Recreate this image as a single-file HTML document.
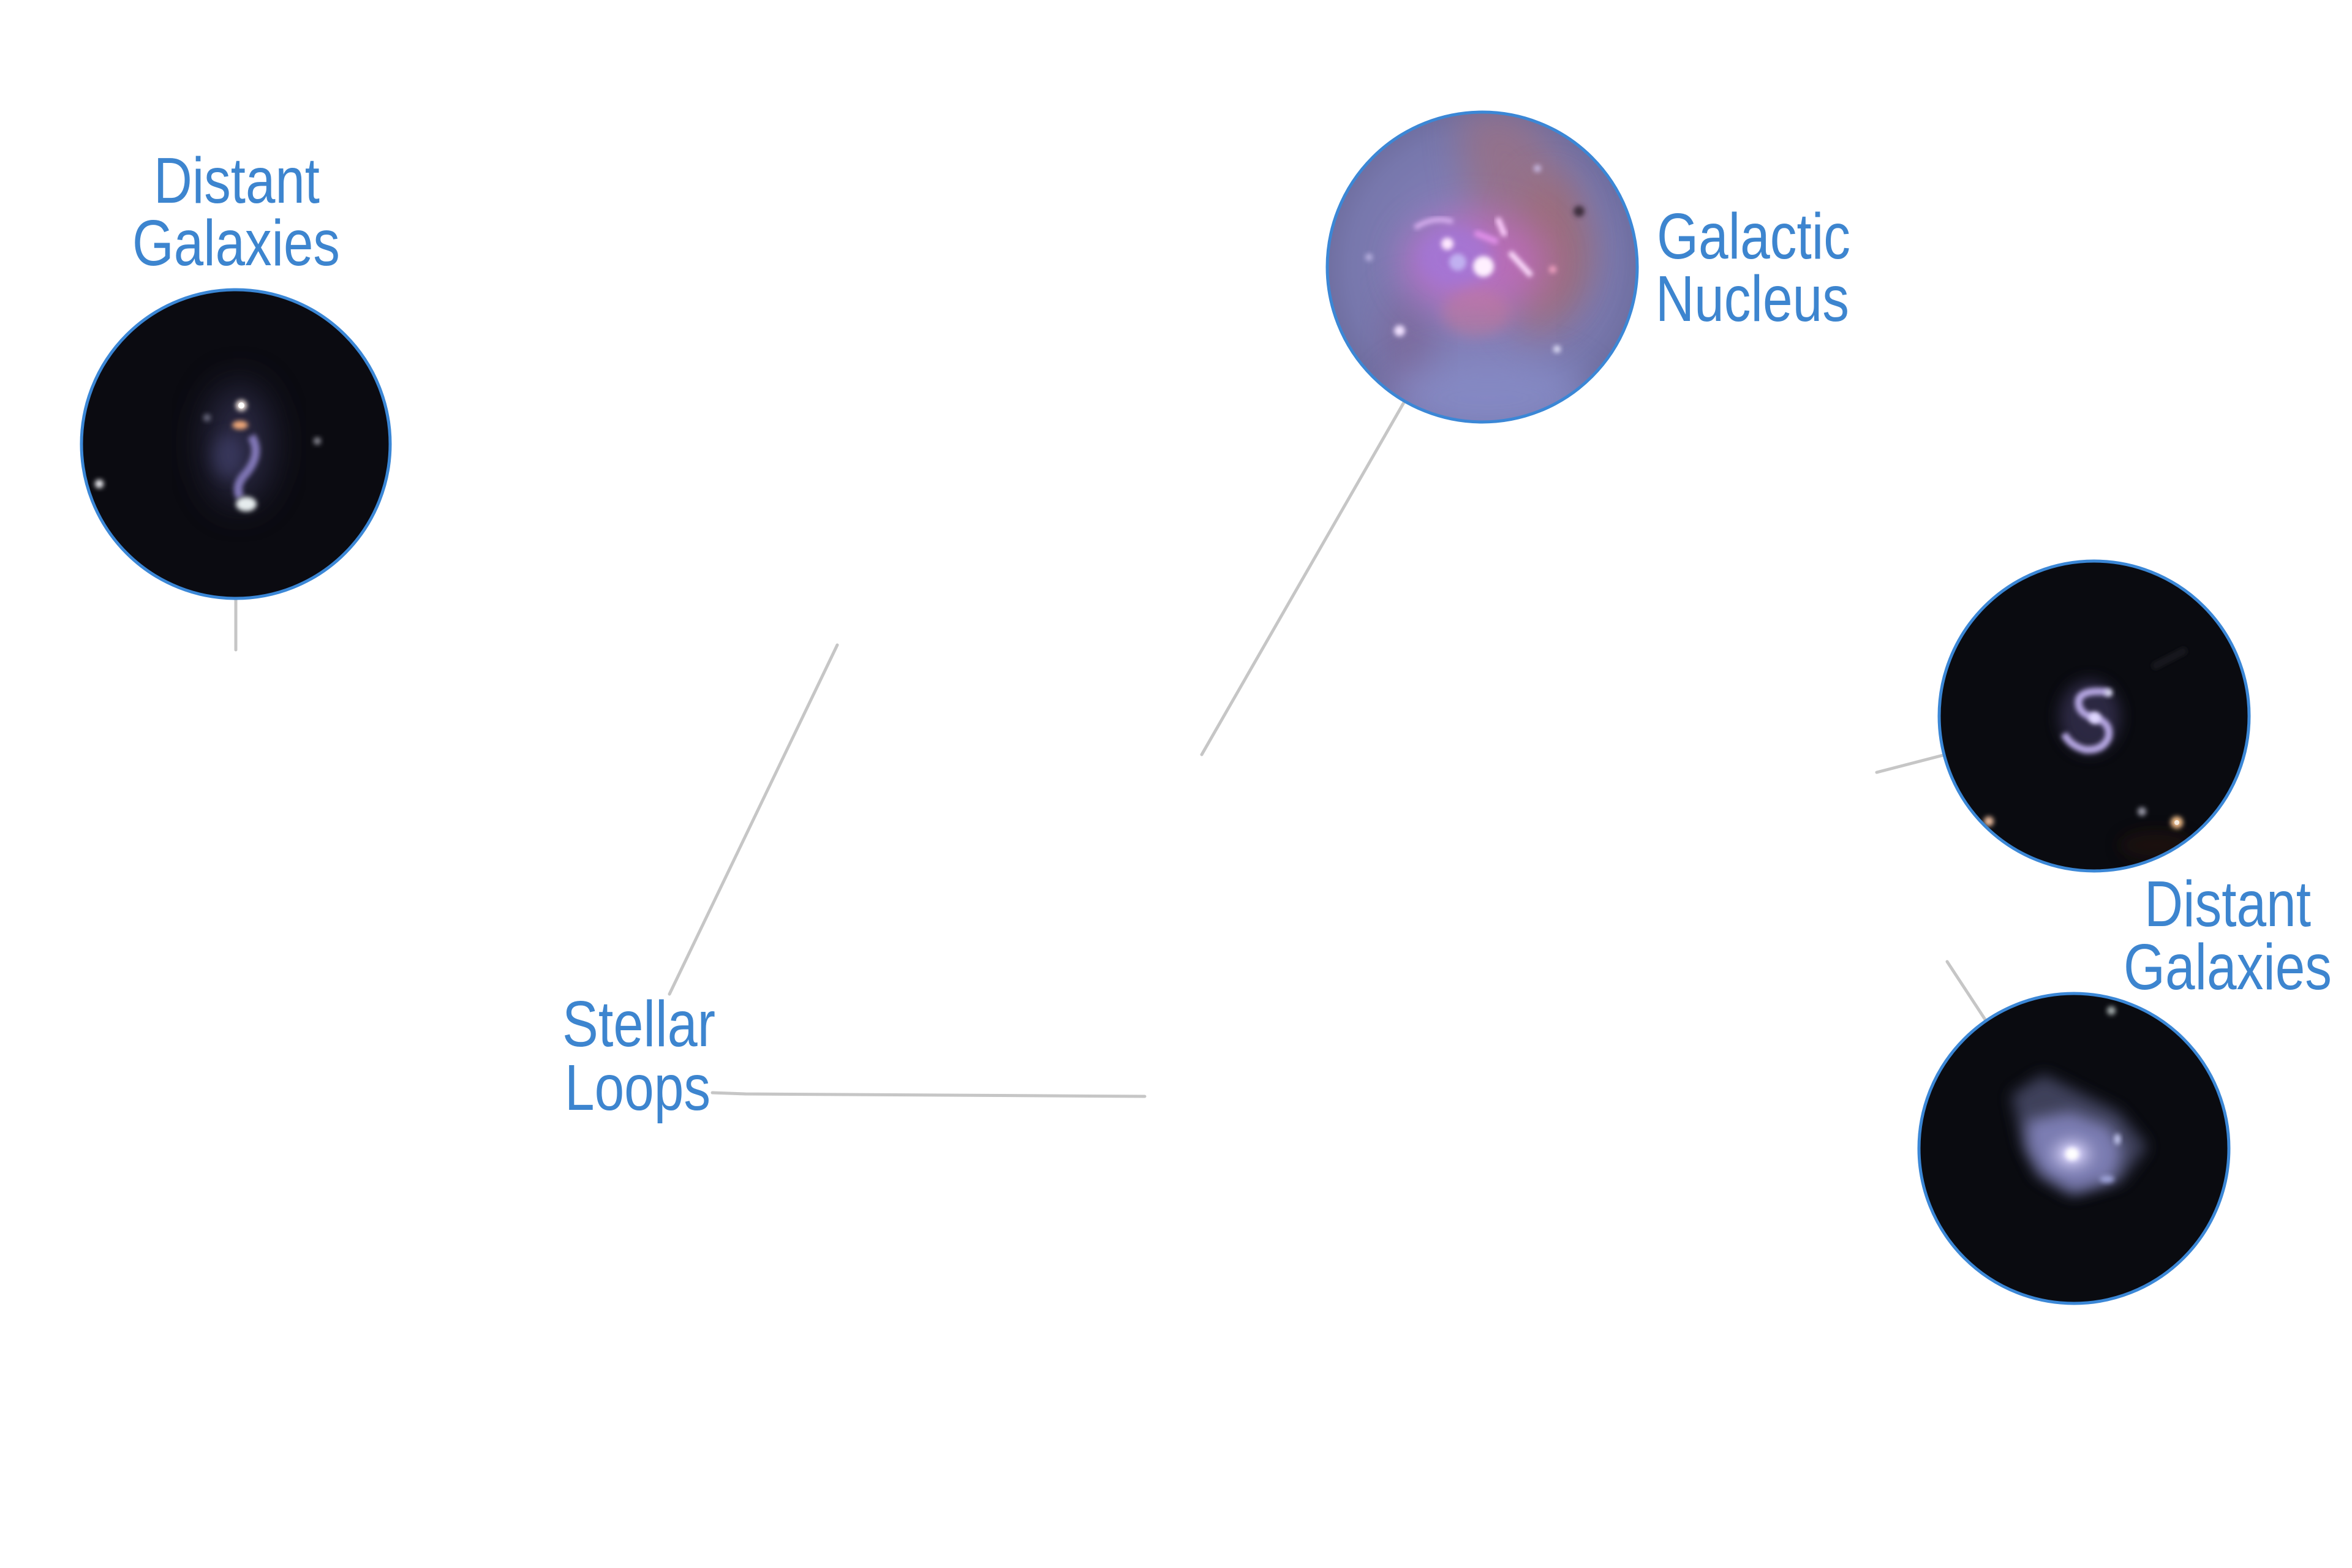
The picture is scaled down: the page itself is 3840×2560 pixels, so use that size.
<!DOCTYPE html>
<html>
<head>
<meta charset="utf-8">
<style>
html,body{margin:0;padding:0;background:#ffffff;}
body{width:3840px;height:2560px;overflow:hidden;}
svg{display:block;}
text{font-family:"Liberation Sans",Arial,sans-serif;fill:#3d85cf;font-size:106px;}
</style>
</head>
<body>
<svg width="3840" height="2560" viewBox="0 0 3840 2560" xmlns="http://www.w3.org/2000/svg">
<defs>
  <clipPath id="c1"><circle cx="385" cy="725" r="252"/></clipPath>
  <clipPath id="c2"><circle cx="2420" cy="436" r="253"/></clipPath>
  <clipPath id="c3"><circle cx="3419" cy="1169" r="253"/></clipPath>
  <clipPath id="c4"><circle cx="3386" cy="1875" r="253"/></clipPath>
  <filter id="bs" x="-50%" y="-50%" width="200%" height="200%"><feGaussianBlur stdDeviation="4"/></filter>
  <filter id="bm" x="-50%" y="-50%" width="200%" height="200%"><feGaussianBlur stdDeviation="12"/></filter>
  <filter id="bl" x="-50%" y="-50%" width="200%" height="200%"><feGaussianBlur stdDeviation="30"/></filter>
  <filter id="bx" x="-50%" y="-50%" width="200%" height="200%"><feGaussianBlur stdDeviation="55"/></filter>
  <radialGradient id="g2bg" cx="0.5" cy="0.5" r="0.6">
    <stop offset="0" stop-color="#8f86c2"/>
    <stop offset="0.7" stop-color="#7777ac"/>
    <stop offset="1" stop-color="#64628f"/>
  </radialGradient>
  <radialGradient id="g4core" cx="0.5" cy="0.5" r="0.5">
    <stop offset="0" stop-color="#fff6ff"/>
    <stop offset="0.25" stop-color="#c8c4ee"/>
    <stop offset="1" stop-color="#7a7cb0" stop-opacity="0"/>
  </radialGradient>
</defs>

<!-- connectors -->
<g stroke="#c6c6c6" stroke-width="5" stroke-linecap="round" fill="none">
  <line x1="385" y1="976" x2="385" y2="1061"/>
  <line x1="2295" y1="652" x2="1962" y2="1232"/>
  <line x1="1093" y1="1623" x2="1367" y2="1053"/>
  <polyline points="1163,1784 1217,1786 1869,1790"/>
  <line x1="3064" y1="1261" x2="3176" y2="1232"/>
  <line x1="3179" y1="1570" x2="3244" y2="1669"/>
</g>

<!-- circle 1: top-left distant galaxies -->
<g clip-path="url(#c1)">
  <rect x="120" y="460" width="530" height="530" fill="#0b0b11"/>
  <ellipse cx="390" cy="725" rx="55" ry="100" fill="#3e3b62" opacity="0.6" filter="url(#bl)"/>
  <path d="M410 712 Q 428 740 402 772 Q 382 792 392 812" stroke="#8278b8" stroke-width="14" fill="none" filter="url(#bs)"/>
  <ellipse cx="372" cy="745" rx="25" ry="35" fill="#4a4878" opacity="0.5" filter="url(#bm)"/>
  <circle cx="394" cy="662" r="9" fill="#fff0e8" filter="url(#bs)"/>
  <circle cx="394" cy="662" r="5" fill="#ffffff"/>
  <ellipse cx="392" cy="694" rx="13" ry="7" fill="#f0a878" filter="url(#bs)"/>
  <ellipse cx="402" cy="823" rx="17" ry="12" fill="#e6ecee" filter="url(#bs)"/>
  <circle cx="162" cy="790" r="7" fill="#f0f0f4" filter="url(#bs)"/>
  <circle cx="518" cy="720" r="6" fill="#8c8c96" filter="url(#bs)"/>
  <circle cx="338" cy="682" r="6" fill="#6c6c80" filter="url(#bs)"/>
</g>
<circle cx="385" cy="725" r="252" fill="none" stroke="#3b87d6" stroke-width="5"/>

<!-- circle 2: galactic nucleus -->
<g clip-path="url(#c2)">
  <rect x="2160" y="176" width="520" height="520" fill="url(#g2bg)"/>
  <path d="M2380 180 L2480 180 Q 2590 290 2600 430 Q 2580 530 2500 560 Q 2430 480 2410 380 Q 2390 280 2380 180 Z" fill="#9c6f80" opacity="0.75" filter="url(#bl)"/>
  <ellipse cx="2530" cy="400" rx="55" ry="110" fill="#a06a70" opacity="0.6" filter="url(#bl)"/>
  <ellipse cx="2300" cy="580" rx="40" ry="110" fill="#7a5a88" opacity="0.5" filter="url(#bl)"/>
  <ellipse cx="2410" cy="430" rx="120" ry="85" fill="#c46ac8" opacity="0.7" filter="url(#bl)"/>
  <ellipse cx="2375" cy="420" rx="60" ry="50" fill="#9c78e0" opacity="0.55" filter="url(#bm)"/>
  <ellipse cx="2410" cy="510" rx="55" ry="40" fill="#c87890" opacity="0.45" filter="url(#bm)"/>
  <ellipse cx="2430" cy="650" rx="170" ry="70" fill="#8a90cc" opacity="0.7" filter="url(#bl)"/>
  <path d="M2310 372 Q 2340 352 2372 362" stroke="#d8b0f0" stroke-width="8" fill="none" filter="url(#bs)"/>
  <path d="M2408 380 L2445 395" stroke="#e090e8" stroke-width="10" fill="none" filter="url(#bs)"/>
  <line x1="2445" y1="356" x2="2457" y2="385" stroke="#ffd0ff" stroke-width="9" filter="url(#bs)"/>
  <line x1="2465" y1="412" x2="2500" y2="450" stroke="#ffe0ff" stroke-width="9" filter="url(#bs)"/>
  <circle cx="2363" cy="398" r="10" fill="#ffe8ff" filter="url(#bs)"/>
  <circle cx="2422" cy="435" r="17" fill="#fff0ff" filter="url(#bs)"/>
  <circle cx="2380" cy="428" r="14" fill="#c8c0f8" opacity="0.8" filter="url(#bs)"/>
  <circle cx="2285" cy="540" r="9" fill="#f0e0ff" filter="url(#bs)"/>
  <circle cx="2542" cy="570" r="6" fill="#e0e0f8" filter="url(#bs)"/>
  <circle cx="2578" cy="345" r="9" fill="#3e2e3c" filter="url(#bs)"/>
  <circle cx="2235" cy="420" r="6" fill="#b8b0e0" filter="url(#bs)"/>
  <circle cx="2535" cy="440" r="6" fill="#f0a0c0" filter="url(#bs)"/>
  <circle cx="2510" cy="275" r="6" fill="#c8b8e0" filter="url(#bs)"/>
</g>
<circle cx="2420" cy="436" r="253" fill="none" stroke="#3b87d6" stroke-width="5"/>

<!-- circle 3: right top distant galaxy -->
<g clip-path="url(#c3)">
  <rect x="3160" y="910" width="520" height="520" fill="#0a0b10"/>
  <ellipse cx="3412" cy="1170" rx="50" ry="60" fill="#3a3658" opacity="0.7" filter="url(#bm)"/>
  <path d="M3443 1130 Q 3400 1125 3394 1142 Q 3390 1165 3420 1172 Q 3448 1180 3442 1205 Q 3432 1226 3405 1224 Q 3380 1218 3370 1198" stroke="#b7a8e4" stroke-width="12" fill="none" filter="url(#bs)"/>
  <circle cx="3420" cy="1172" r="10" fill="#e0d8ff" filter="url(#bs)"/>
  <circle cx="3443" cy="1131" r="6" fill="#e8e8ff" filter="url(#bs)"/>
  <line x1="3515" y1="1089" x2="3569" y2="1061" stroke="#1a1c24" stroke-width="10" filter="url(#bs)"/>
  <circle cx="3247" cy="1341" r="8" fill="#f0c0a0" filter="url(#bs)"/>
  <circle cx="3497" cy="1325" r="7" fill="#9a9aa8" filter="url(#bs)"/>
  <circle cx="3554" cy="1343" r="10" fill="#ffc890" filter="url(#bs)"/>
  <circle cx="3554" cy="1343" r="4" fill="#fff4e8"/>
  <ellipse cx="3520" cy="1380" rx="60" ry="25" fill="#2a1410" opacity="0.5" filter="url(#bm)"/>
</g>
<circle cx="3419" cy="1169" r="253" fill="none" stroke="#3b87d6" stroke-width="5"/>

<!-- circle 4: right bottom distant galaxy -->
<g clip-path="url(#c4)">
  <rect x="3125" y="1615" width="525" height="525" fill="#0a0b10"/>
  <path d="M3284 1787 L3336 1754 L3459 1815 L3506 1872 L3463 1929 L3383 1952 L3326 1919 L3303 1872 Z" fill="#444664" opacity="0.9" filter="url(#bm)"/>
  <path d="M3310 1830 L3380 1815 L3445 1840 L3465 1880 L3450 1925 L3385 1945 L3335 1915 L3312 1875 Z" fill="#7b7db2" filter="url(#bm)"/>
  <ellipse cx="3383" cy="1884" rx="55" ry="45" fill="url(#g4core)"/>
  <circle cx="3383" cy="1884" r="10" fill="#ffffff" filter="url(#bs)"/>
  <ellipse cx="3457" cy="1860" rx="5" ry="9" fill="#c8ccf4" filter="url(#bs)"/>
  <ellipse cx="3440" cy="1925" rx="12" ry="6" fill="#9da2d8" filter="url(#bs)"/>
  <circle cx="3447" cy="1650" r="7" fill="#a8b0b0" filter="url(#bs)"/>
</g>
<circle cx="3386" cy="1875" r="253" fill="none" stroke="#3b87d6" stroke-width="5"/>

<!-- labels -->
<text x="251" y="331" textLength="271" lengthAdjust="spacingAndGlyphs">Distant</text>
<text x="216" y="433" textLength="339" lengthAdjust="spacingAndGlyphs">Galaxies</text>

<text x="2705" y="422" textLength="316" lengthAdjust="spacingAndGlyphs">Galactic</text>
<text x="2703" y="524" textLength="316" lengthAdjust="spacingAndGlyphs">Nucleus</text>

<text x="918" y="1708" textLength="250" lengthAdjust="spacingAndGlyphs">Stellar</text>
<text x="922" y="1812" textLength="238" lengthAdjust="spacingAndGlyphs">Loops</text>

<text x="3501" y="1512" textLength="272" lengthAdjust="spacingAndGlyphs">Distant</text>
<text x="3467" y="1615" textLength="340" lengthAdjust="spacingAndGlyphs">Galaxies</text>
</svg>
</body>
</html>
